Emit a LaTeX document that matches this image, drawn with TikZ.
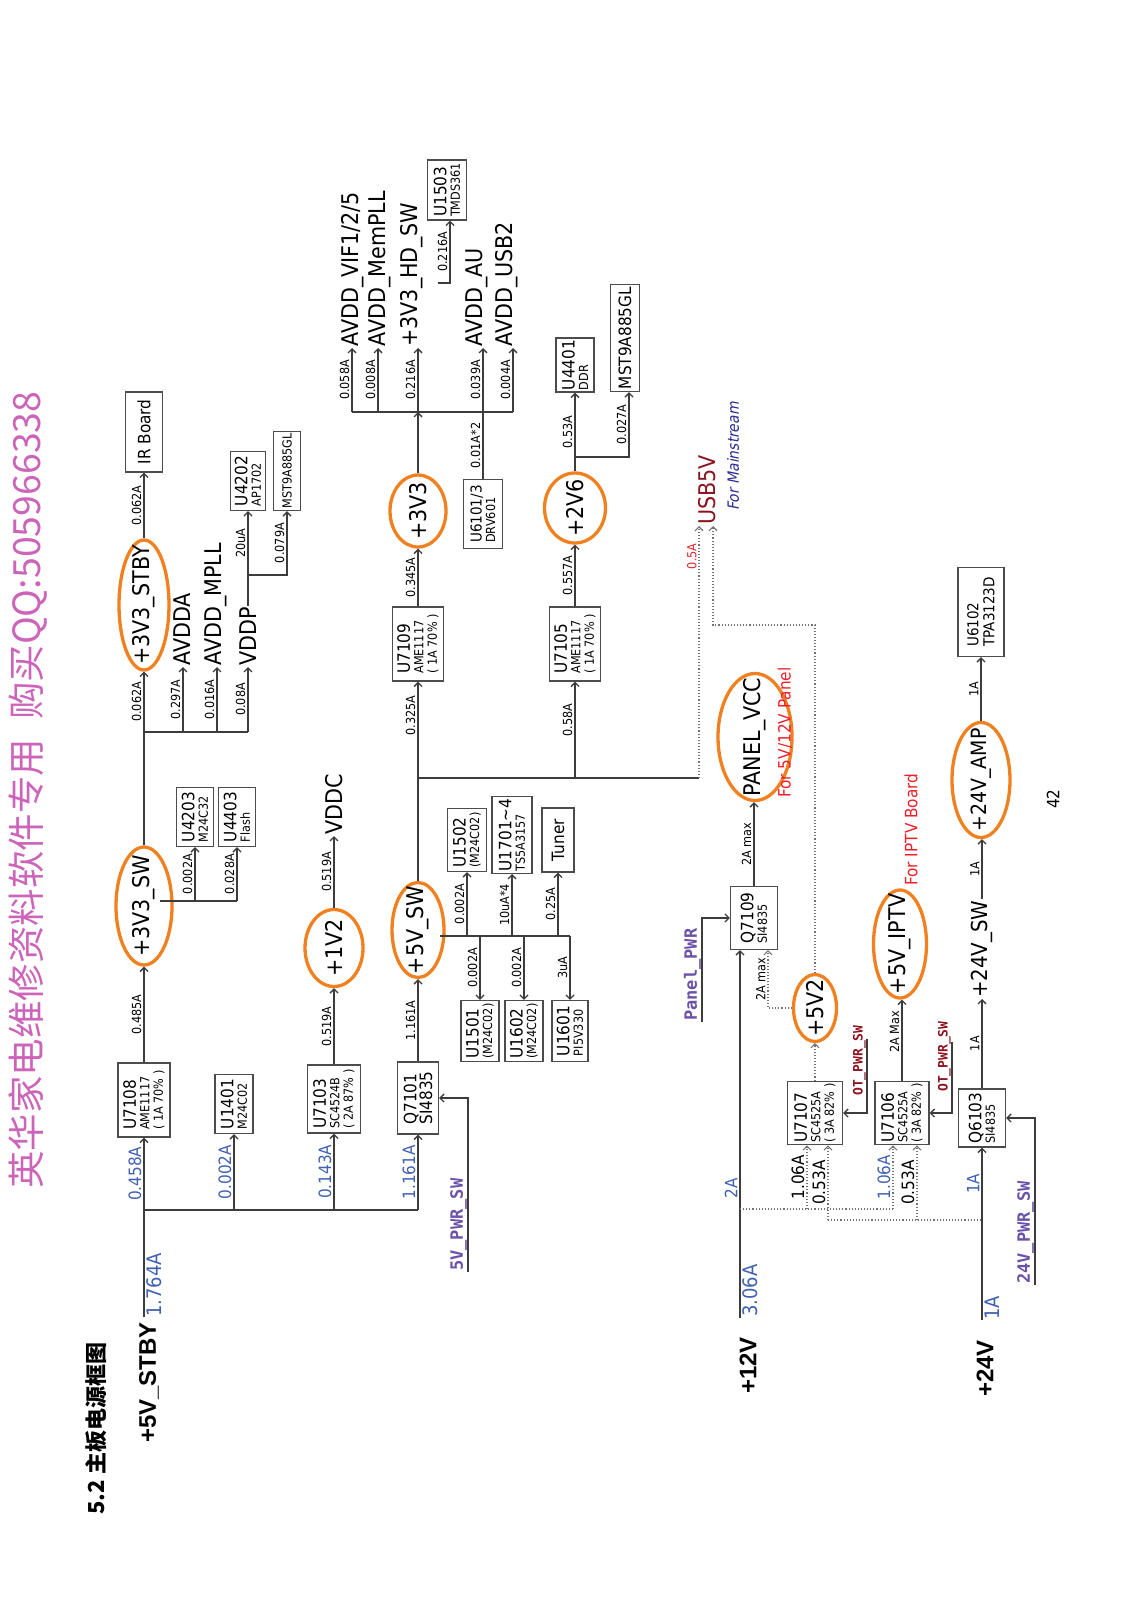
\documentclass[tikz,border=0pt]{standalone}
\usepackage{fontspec}
\setmainfont{DejaVu Sans}[FakeStretch=0.9,ItalicFont={DejaVu Sans},ItalicFeatures={FakeSlant=0.2}]
\setmonofont{DejaVu Sans Mono}
\newfontfamily\railfont{Liberation Sans}
\newfontfamily\cjk{Noto Sans CJK SC}
\usetikzlibrary{arrows.meta,positioning,shapes}

\definecolor{ovalorange}{RGB}{240,128,32}
\definecolor{ampblue}{RGB}{64,96,176}
\definecolor{sigpurple}{RGB}{107,82,168}
\definecolor{netred}{RGB}{140,20,32}
\definecolor{notered}{RGB}{236,32,42}
\definecolor{navy}{RGB}{42,42,144}
\definecolor{wmpink}{RGB}{204,100,186}
\definecolor{wiregray}{RGB}{60,60,60}

\newcommand{\fsz}[1]{\fontsize{#1}{#1}\selectfont}
\newcommand{\chipname}[1]{{\fontsize{17}{17}\selectfont #1}}

\begin{document}
\begin{tikzpicture}[x=1pt, y=-1pt, >={Straight Barb[length=4pt,width=8pt]},
  wire/.style={draw=wiregray, line width=1.3pt},
  dotwire/.style={draw=black!55, line width=1.1pt, dotted},
  net/.style={rotate=90, inner sep=1pt, font=\fsz{23}},
  oval/.style={ellipse, draw=ovalorange, line width=3.3pt, rotate=90, inner sep=0pt},
  chip/.style={draw=black!70, line width=1.3pt, rotate=90, align=left, inner sep=2pt, font=\fontsize{12.5}{13.5}\selectfont},
  cur/.style={rotate=90, anchor=south, inner sep=2pt, font=\fsz{12.5}, pos=.5},
  amps/.style={cur, font=\fsz{17}, text=ampblue},
  bigamps/.style={cur, anchor=north, font=\fsz{20}, text=ampblue},
  rail/.style={rotate=90, anchor=east, inner sep=1pt, font=\railfont\bfseries\fsz{24}},
  signame/.style={rotate=90, anchor=south west, inner sep=1pt, text=sigpurple, font=\ttfamily\bfseries\fsz{17}},
  otname/.style={signame, text=netred, font=\ttfamily\bfseries\fsz{13}},
  note/.style={rotate=90, anchor=west, inner sep=1pt, text=notered, font=\fsz{17}}]
\useasboundingbox (0,0) rectangle (1132,1600);
% Watermark, title, page number
\node[rotate=90, text=wmpink, font=\cjk\fsz{37.5}] (wmark) at (28,790) {英华家电维修资料软件专用\hspace{0.5em}购买QQ:505966338};
\node[rotate=90, anchor=west, font=\cjk\bfseries\fsz{22}] (title) at (96,1518) {5.2 主板电源框图};
\node[rotate=90, font=\fsz{17}] (pgno) at (1053,799) {42};

% +5V_STBY rail and its bus
\node[rail] (stby) at (149,1321) {+5V\_STBY};
\coordinate (stbyin) at (144,1317);
\coordinate (b1) at (144,1210);
\coordinate (b2) at (234,1210);
\coordinate (b3) at (334,1210);
\coordinate (b4) at (418,1210);
\draw[wire] (stbyin) -- node[bigamps, pos=.3]{1.764A} (b1) -- (b4);
\node[chip, minimum width=74pt, minimum height=52pt] (u7108) at (144,1100) {\chipname{U7108}\\AME1117\\( 1A 70\% )};
\node[chip, minimum width=59pt, minimum height=38pt] (u1401) at (234,1104) {\chipname{U1401}\\M24C02};
\node[chip, minimum width=68pt, minimum height=53pt] (u7103) at (334,1099) {\chipname{U7103}\\SC4524B\\( 2A 87\% )};
\node[chip, minimum width=72pt, minimum height=41pt] (q7101) at (418,1098) {\chipname{Q7101}\\\chipname{SI4835}};
\draw[wire,->] (b1) -- node[amps]{0.458A} (u7108.west);
\draw[wire,->] (b2) -- node[amps]{0.002A} (u1401.west);
\draw[wire,->] (b3) -- node[amps]{0.143A} (u7103.west);
\draw[wire,->] (b4) -- node[amps]{1.161A} (q7101.west);
\coordinate (pwr5) at (468,1272);
\node[signame] (pwr5txt) at (pwr5) {5V\_PWR\_SW};
\draw[wire,->] (pwr5) |- (q7101.south);

% +3V3_SW and +3V3_STBY
\node[oval, minimum width=118pt, minimum height=56pt] (sw3) at (144,906) {};
\node[net] at (sw3) {+3V3\_SW};
\draw[wire,->] (u7108.east) -- node[cur]{0.485A} (sw3.west);
\coordinate (sw3r) at (160,901);
\coordinate (k4) at (195,901);
\coordinate (k5) at (237,901);
\draw[wire] (sw3r) -- (k5);
\node[chip, minimum width=59pt, minimum height=37pt] (u4203) at (195,817) {\chipname{U4203}\\M24C32};
\node[chip, minimum width=59pt, minimum height=37pt] (u4403) at (237,817) {\chipname{U4403}\\Flash};
\draw[wire,->] (k4) -- node[cur]{0.002A} (u4203.west);
\draw[wire,->] (k5) -- node[cur]{0.028A} (u4403.west);
\coordinate (j3sw) at (144,732);
\coordinate (k1) at (183,732);
\coordinate (k2) at (217,732);
\coordinate (k3) at (248,732);
\draw[wire] (sw3.east) -- (j3sw) -- (k3);
\node[oval, minimum width=130pt, minimum height=50pt] (stby3) at (144,605) {};
\node[net] at (stby3) {+3V3\_STBY};
\draw[wire,->] (j3sw) -- node[cur]{0.062A} (stby3.west);
\node[chip, minimum width=80pt, minimum height=37pt, font=\fsz{17}] (irb) at (144,432) {IR Board};
\draw[wire,->] (stby3.east) -- node[cur]{0.062A} (irb.west);
\node[net, anchor=west] (avdda) at (182,667) {AVDDA};
\node[net, anchor=west] (mpll) at (216,667) {AVDD\_MPLL};
\node[net, anchor=west] (vddp) at (248,667) {VDDP};
\draw[wire,->] (k1) -- node[cur]{0.297A} (k1 |- avdda.west);
\draw[wire,->] (k2) -- node[cur]{0.016A} (k2 |- mpll.west);
\draw[wire,->] (k3) -- node[cur]{0.08A} (vddp.west);
\coordinate (jvddp) at (248,575);
\draw[wire] (vddp.east) -- (jvddp);
\node[chip, minimum width=59pt, minimum height=35pt] (u4202) at (248,481) {\chipname{U4202}\\AP1702};
\node[chip, minimum width=79pt, minimum height=27pt, font=\fsz{12.5}] (mst1) at (287,471) {MST9A885GL};
\draw[wire,->] (jvddp) -- node[cur]{20uA} (u4202.west);
\draw[wire,->] (jvddp) -| node[cur, pos=.75]{0.079A} (mst1.west);

% +1V2
\node[oval, minimum width=77pt, minimum height=58pt] (v1v2) at (334,948) {};
\node[net] at (v1v2) {+1V2};
\draw[wire,->] (u7103.east) -- node[cur]{0.519A} (v1v2.west);
\node[net, anchor=west] (vddc) at (334,836) {VDDC};
\draw[wire,->] (v1v2.east) -- node[cur]{0.519A} (vddc.west);

% +5V_SW
\node[oval, minimum width=95pt, minimum height=52pt] (sw5) at (418,930) {};
\node[net] at (sw5) {+5V\_SW};
\draw[wire,->] (q7101.east) -- node[cur]{1.161A} (sw5.west);
\coordinate (sw5r) at (440,936);
\coordinate (t1) at (467,936);
\coordinate (s1) at (480,936);
\coordinate (t2) at (512,936);
\coordinate (s2) at (524,936);
\coordinate (t3) at (558,936);
\coordinate (s3) at (570,936);
\draw[wire] (sw5r) -- (s3);
\node[chip, minimum width=63pt, minimum height=39pt] (u1502) at (467,840) {\chipname{U1502}\\(M24C02)};
\node[chip, minimum width=76pt, minimum height=40pt] (u1701) at (512,835) {\chipname{U1701\textasciitilde4}\\TS5A3157};
\node[chip, minimum width=64pt, minimum height=32pt, font=\fsz{17}] (tuner) at (558,840) {Tuner};
\node[chip, minimum width=61pt, minimum height=38pt] (u1501) at (480,1031) {\chipname{U1501}\\(M24C02)};
\node[chip, minimum width=61pt, minimum height=38pt] (u1602) at (524,1031) {\chipname{U1602}\\(M24C02)};
\node[chip, minimum width=61pt, minimum height=36pt] (u1601) at (570,1031) {\chipname{U1601}\\PI5V330};
\draw[wire,->] (t1) -- node[cur]{0.002A} (u1502.west);
\draw[wire,->] (t2) -- node[cur]{10uA*4} (u1701.west);
\draw[wire,->] (t3) -- node[cur]{0.25A} (tuner.west);
\draw[wire,->] (s1) -- node[cur]{0.002A} (u1501.east);
\draw[wire,->] (s2) -- node[cur]{0.002A} (u1602.east);
\draw[wire,->] (s3) -- node[cur]{3uA} (u1601.east);

% +3V3 branch
\coordinate (j5) at (418,778);
\coordinate (j6) at (575,778);
\coordinate (j7) at (699,778);
\draw[wire] (sw5.east) -- (j5) -- (j7);
\node[chip, minimum width=74pt, minimum height=51pt] (u7109) at (418,644) {\chipname{U7109}\\AME1117\\( 1A 70\% )};
\draw[wire,->] (j5) -- node[cur, pos=.65]{0.325A} (u7109.west);
\node[oval, minimum width=72pt, minimum height=56pt] (v3v3) at (418,511) {};
\node[net] at (v3v3) {+3V3};
\draw[wire,->] (u7109.east) -- node[cur]{0.345A} (v3v3.west);
\coordinate (j33) at (418,412);
\coordinate (a1) at (352,412);
\coordinate (a2) at (378,412);
\coordinate (a4) at (483,412);
\coordinate (a5) at (513,412);
\draw[wire,->] (v3v3.east) -- (j33);
\draw[wire] (a1) -- (a5);
\node[net, anchor=west] (vif) at (353,348) {AVDD\_VIF1/2/5};
\node[net, anchor=west] (mem) at (380,348) {AVDD\_MemPLL};
\node[net, anchor=west] (hdsw) at (412,348) {+3V3\_HD\_SW};
\node[net, anchor=west] (au) at (477,348) {AVDD\_AU};
\node[net, anchor=west] (usb2) at (507,348) {AVDD\_USB2};
\draw[wire,->] (a1) -- node[cur]{0.058A} (a1 |- vif.west);
\draw[wire,->] (a2) -- node[cur]{0.008A} (a2 |- mem.west);
\draw[wire,->] (j33) -- node[cur]{0.216A} (j33 |- hdsw.west);
\draw[wire,->] (a4) -- node[cur]{0.039A} (a4 |- au.west);
\draw[wire,->] (a5) -- node[cur]{0.004A} (a5 |- usb2.west);
\node[chip, minimum width=69pt, minimum height=39pt] (u6101) at (483,514) {{\fsz{15}U6101/3}\\DRV601};
\draw[wire] (a4) -- node[cur]{0.01A*2} (a4 |- u6101.east);
\coordinate (hdj) at (438,283);
\node[chip, minimum width=60pt, minimum height=39pt] (u1503) at (447,190) {\chipname{U1503}\\TMDS361};
\draw[wire,->] (hdj) -| node[cur, pos=.75]{0.216A} ([xshift=3pt]u1503.west);

% +2V6
\node[chip, minimum width=74pt, minimum height=51pt] (u7105) at (575,644) {\chipname{U7105}\\AME1117\\( 1A 70\% )};
\draw[wire,->] (j6) -- node[cur, pos=.6]{0.58A} (u7105.west);
\node[oval, minimum width=70pt, minimum height=61pt] (v2v6) at (575,508) {};
\node[net] at (v2v6) {+2V6};
\draw[wire,->] (u7105.east) -- node[cur]{0.557A} (v2v6.west);
\node[chip, minimum width=54pt, minimum height=38pt] (u4401) at (575,365) {\chipname{U4401}\\DDR};
\draw[wire,->] (v2v6.east) -- node[cur]{0.53A} (u4401.west);
\coordinate (j26) at (575,457);
\node[chip, minimum width=107pt, minimum height=29pt, font=\fsz{17}] (mst2) at (625,338) {MST9A885GL};
\draw[wire,->] (j26) -| node[cur, pos=.75]{0.027A} ([xshift=4pt]mst2.west);

% USB5V
\node[net, anchor=west, text=netred] (usb) at (707,526) {USB5V};
\node[rotate=90, anchor=west, inner sep=1pt, text=navy, font=\itshape\fsz{15.5}] (mainstream) at (733,512) {For Mainstream};
\draw[dotwire,->] (j7) -- node[cur, pos=.88, text=notered]{0.5A} ([xshift=-8pt]usb.west);

% +12V rail
\node[rail] (v12rail) at (748,1336) {+12V};
\coordinate (v12in) at (740,1318);
\coordinate (j12) at (740,1209);
\node[chip, minimum width=63pt, minimum height=47pt] (q7109) at (754,918) {\chipname{Q7109}\\SI4835};
\draw[wire] (v12in) -- node[bigamps, pos=.25]{3.06A} (j12);
\draw[wire,->] (j12) -- node[amps, pos=.08]{2A} ([xshift=-14pt]q7109.west);
\coordinate (ppwr) at (702,1022);
\node[signame] (ppwrtxt) at (ppwr) {Panel\_PWR};
\draw[wire,->] (ppwr) |- (q7109.north);
\node[oval, minimum width=127pt, minimum height=74pt] (pvcc) at (755,737) {};
\node[net] at (pvcc) {PANEL\_VCC};
\node[note] (panelnote) at (785,799) {For 5V/12V Panel};
\draw[wire,->] (q7109.east) -- node[cur]{2A max} (q7109.east |- pvcc.west);

% +5V2 and +5V_IPTV
\node[chip, minimum width=62pt, minimum height=55pt] (u7107) at (815,1113) {\chipname{U7107}\\SC4525A\\( 3A 82\% )};
\node[chip, minimum width=63pt, minimum height=54pt] (u7106) at (902,1113) {\chipname{U7106}\\SC4525A\\( 3A 82\% )};
\coordinate (d1) at (807,1209);
\coordinate (d2) at (893,1209);
\coordinate (e1) at (828,1220);
\coordinate (e2) at (917,1220);
\coordinate (j24) at (982,1220);
\draw[dotwire] (j12) -- (d2);
\draw[dotwire] (e1) -- (j24);
\draw[dotwire,->] (d1) -- node[amps, text=black]{1.06A} (d1 |- u7107.west);
\draw[dotwire,->] (e1) -- node[amps, text=black]{0.53A} (e1 |- u7107.west);
\draw[dotwire,->] (d2) -- node[amps]{1.06A} (d2 |- u7106.west);
\draw[dotwire,->] (e2) -- node[amps, text=black]{0.53A} (e2 |- u7106.west);
\node[oval, minimum width=67pt, minimum height=43pt] (v5v2) at (815,1008) {};
\node[net] at (v5v2) {+5V2};
\draw[dotwire,->] (u7107.east) -- (v5v2.west);
\draw[dotwire,->] (v5v2.north) -| node[cur, pos=.75]{2A max} ([xshift=14pt]q7109.west);
\coordinate (cu) at (713,625);
\draw[dotwire,->] (v5v2.east) |- (cu) -- ([xshift=6pt]usb.west);
\coordinate (ot1) at (867,1039);
\node[otname] (ot1txt) at (867,1097) {OT\_PWR\_SW};
\draw[wire,->] (ot1) |- (u7107.south);
\node[oval, minimum width=108pt, minimum height=53pt] (iptv) at (900,944) {};
\node[net] at (iptv) {+5V\_IPTV};
\node[note] (iptvnote) at (911,887) {For IPTV Board};
\draw[wire,->] (u7106.east) -- node[cur, pos=.6]{2A Max} (u7106.east |- iptv.west);
\coordinate (ot2) at (952,1042);
\node[otname] (ot2txt) at (952,1093) {OT\_PWR\_SW};
\draw[wire,->] (ot2) |- (u7106.south);

% +24V rail
\node[rail] (v24rail) at (985,1339) {+24V};
\coordinate (v24in) at (982,1320);
\node[chip, minimum width=58pt, minimum height=47pt] (q6103) at (982,1118) {\chipname{Q6103}\\SI4835};
\draw[wire] (v24in) -- node[bigamps, pos=.12]{1A} (j24);
\draw[wire,->] (j24) -- node[amps]{1A} (q6103.west);
\coordinate (pwr24) at (1035,1285);
\node[signame] (pwr24txt) at (pwr24) {24V\_PWR\_SW};
\draw[wire,->] (pwr24) |- (q6103.south);
\node[net, anchor=west, font=\fsz{22}] (sw24) at (982,999) {+24V\_SW};
\draw[wire,->] (q6103.east) -- node[cur]{1A} (sw24.west);
\node[oval, minimum width=115pt, minimum height=58pt] (amp24) at (981,780) {};
\node[net, font=\fsz{21}] at (amp24) {+24V\_AMP};
\draw[wire,->] (sw24.east) -- node[cur]{1A} (sw24.east |- amp24.west);
\node[chip, minimum width=89pt, minimum height=46pt, font=\fontsize{15}{16}\selectfont] (u6102) at (981,612) {U6102\\TPA3123D};
\draw[wire,->] (amp24.east) -- node[cur]{1A} (u6102.west);
\end{tikzpicture}
\end{document}
